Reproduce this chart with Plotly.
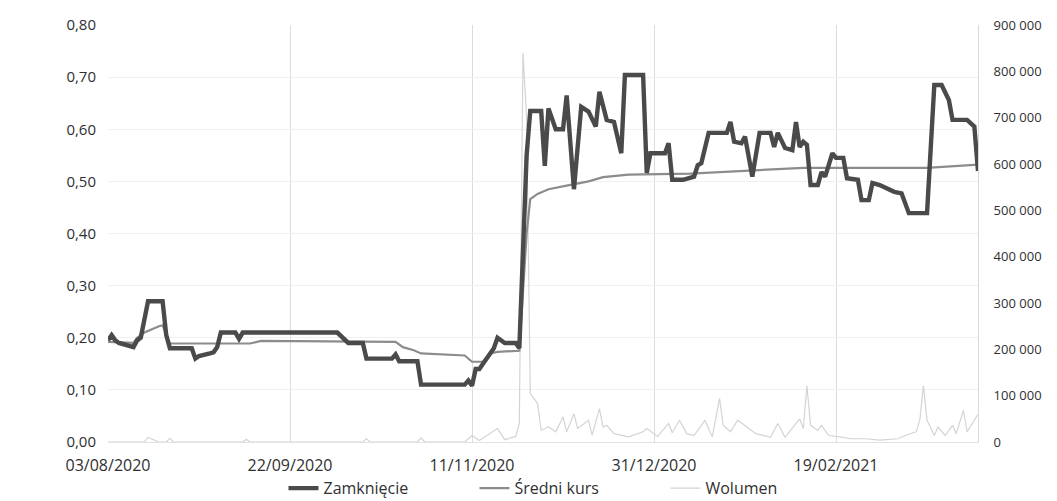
import plotly.graph_objects as go

# Closing price (Zamknięcie)
close_dates = [
    "2020-08-03", "2020-08-04", "2020-08-05", "2020-08-06", "2020-08-10", "2020-08-11", "2020-08-12", "2020-08-14", "2020-08-18", "2020-08-19",
    "2020-08-20", "2020-08-26", "2020-08-27", "2020-08-28", "2020-08-31", "2020-09-01", "2020-09-02", "2020-09-03", "2020-09-07", "2020-09-08",
    "2020-09-09", "2020-10-05", "2020-10-08", "2020-10-12", "2020-10-13", "2020-10-20", "2020-10-21", "2020-10-22", "2020-10-27", "2020-10-28",
    "2020-11-09", "2020-11-10", "2020-11-11", "2020-11-12", "2020-11-13", "2020-11-16", "2020-11-17", "2020-11-18", "2020-11-20", "2020-11-23",
    "2020-11-24", "2020-11-26", "2020-11-27", "2020-11-30", "2020-12-01", "2020-12-02", "2020-12-03", "2020-12-04", "2020-12-06", "2020-12-07",
    "2020-12-09", "2020-12-11", "2020-12-13", "2020-12-15", "2020-12-16", "2020-12-17", "2020-12-18", "2020-12-20", "2020-12-22", "2020-12-23",
    "2020-12-28", "2020-12-29", "2020-12-30", "2021-01-03", "2021-01-04", "2021-01-05", "2021-01-08", "2021-01-11", "2021-01-12", "2021-01-13",
    "2021-01-15", "2021-01-20", "2021-01-21", "2021-01-22", "2021-01-24", "2021-01-25", "2021-01-27", "2021-01-29", "2021-02-01", "2021-02-02",
    "2021-02-03", "2021-02-05", "2021-02-07", "2021-02-08", "2021-02-09", "2021-02-10", "2021-02-11", "2021-02-12", "2021-02-14", "2021-02-15",
    "2021-02-16", "2021-02-18", "2021-02-19", "2021-02-21", "2021-02-22", "2021-02-25", "2021-02-26", "2021-02-28", "2021-03-01", "2021-03-03",
    "2021-03-05", "2021-03-07", "2021-03-09", "2021-03-11", "2021-03-15", "2021-03-16", "2021-03-18", "2021-03-20", "2021-03-22", "2021-03-23",
    "2021-03-27", "2021-03-29", "2021-03-30",
]
close_values = [
    0.195, 0.205, 0.195, 0.19, 0.182, 0.195, 0.20, 0.27, 0.27, 0.205,
    0.18, 0.18, 0.16, 0.165, 0.17, 0.172, 0.182, 0.21, 0.21, 0.198,
    0.21, 0.21, 0.19, 0.19, 0.16, 0.16, 0.168, 0.155, 0.155, 0.11,
    0.11, 0.118, 0.108, 0.14, 0.14, 0.17, 0.18, 0.20, 0.19, 0.19,
    0.18, 0.55, 0.635, 0.635, 0.53, 0.64, 0.622, 0.60, 0.60, 0.665,
    0.485, 0.643, 0.634, 0.605, 0.672, 0.647, 0.618, 0.614, 0.554, 0.704,
    0.704, 0.516, 0.554, 0.554, 0.573, 0.503, 0.503, 0.509, 0.531, 0.535,
    0.593, 0.593, 0.614, 0.576, 0.573, 0.586, 0.509, 0.593, 0.593, 0.566,
    0.593, 0.564, 0.56, 0.614, 0.566, 0.576, 0.57, 0.493, 0.493, 0.518,
    0.509, 0.554, 0.545, 0.545, 0.506, 0.503, 0.464, 0.464, 0.497, 0.493,
    0.487, 0.48, 0.477, 0.439, 0.439, 0.439, 0.685, 0.685, 0.656, 0.618,
    0.618, 0.605, 0.52,
]

# Average price (Średni kurs)
avg_dates = [
    "2020-08-03", "2020-08-10", "2020-08-11", "2020-08-13", "2020-08-17", "2020-08-18", "2020-08-19", "2020-08-20", "2020-09-11", "2020-09-14",
    "2020-10-21", "2020-10-23", "2020-10-26", "2020-10-28", "2020-11-09", "2020-11-11", "2020-11-14", "2020-11-16", "2020-11-18", "2020-11-24",
    "2020-11-26", "2020-11-27", "2020-11-29", "2020-12-02", "2020-12-07", "2020-12-13", "2020-12-17", "2020-12-24", "2021-01-10", "2021-01-20",
    "2021-02-01", "2021-02-10", "2021-03-16", "2021-03-30",
]
avg_values = [
    0.192, 0.19, 0.20, 0.21, 0.222, 0.224, 0.205, 0.189, 0.189, 0.194,
    0.192, 0.182, 0.176, 0.17, 0.166, 0.154, 0.154, 0.17, 0.173, 0.175,
    0.40, 0.466, 0.476, 0.485, 0.492, 0.50, 0.508, 0.513, 0.515, 0.519,
    0.523, 0.526, 0.526, 0.532,
]

# Traded volume (Wolumen)
vol_dates = [
    "2020-08-03", "2020-08-13", "2020-08-14", "2020-08-17", "2020-08-19", "2020-08-20", "2020-08-21", "2020-09-09", "2020-09-10", "2020-09-11",
    "2020-10-12", "2020-10-13", "2020-10-14", "2020-10-27", "2020-10-28", "2020-10-29", "2020-11-09", "2020-11-11", "2020-11-13", "2020-11-18",
    "2020-11-20", "2020-11-23", "2020-11-24", "2020-11-25", "2020-11-26", "2020-11-27", "2020-11-29", "2020-11-30", "2020-12-02", "2020-12-04",
    "2020-12-06", "2020-12-07", "2020-12-09", "2020-12-10", "2020-12-13", "2020-12-14", "2020-12-16", "2020-12-17", "2020-12-18", "2020-12-20",
    "2020-12-24", "2020-12-28", "2020-12-29", "2021-01-01", "2021-01-04", "2021-01-05", "2021-01-07", "2021-01-09", "2021-01-11", "2021-01-14",
    "2021-01-16", "2021-01-18", "2021-01-19", "2021-01-21", "2021-01-23", "2021-01-25", "2021-01-26", "2021-01-28", "2021-02-01", "2021-02-03",
    "2021-02-05", "2021-02-09", "2021-02-10", "2021-02-11", "2021-02-12", "2021-02-14", "2021-02-15", "2021-02-17", "2021-02-20", "2021-02-23",
    "2021-02-27", "2021-03-03", "2021-03-08", "2021-03-10", "2021-03-13", "2021-03-14", "2021-03-15", "2021-03-16", "2021-03-18", "2021-03-19",
    "2021-03-21", "2021-03-23", "2021-03-24", "2021-03-26", "2021-03-27", "2021-03-30",
]
vol_values = [
    0, 0, 10000, 0, 0, 8000, 0, 0, 6000, 0,
    0, 7000, 0, 0, 9000, 0, 0, 14000, 3000, 29000,
    5000, 12000, 40000, 840000, 700000, 105000, 83000, 25000, 33000, 22000,
    54000, 22000, 61000, 29000, 47000, 15000, 72000, 32000, 36000, 18000,
    11000, 22000, 29000, 12000, 40000, 20000, 47000, 18000, 14000, 47000,
    11000, 94000, 36000, 22000, 47000, 36000, 29000, 18000, 10000, 40000,
    10000, 50000, 29000, 122000, 36000, 25000, 36000, 14000, 11000, 7000,
    7000, 4000, 7000, 14000, 22000, 47000, 122000, 47000, 14000, 32000,
    14000, 36000, 18000, 68000, 22000, 60000,
]

x_ticks = ["2020-08-03", "2020-09-22", "2020-11-11", "2020-12-31", "2021-02-19"]

FONT = "Open Sans"
TEXT = "#303030"

fig = go.Figure()

# Volume sits on the primary (right-hand) axis so the price lines draw above it
fig.add_trace(go.Scatter(
    x=vol_dates, y=vol_values, name="Wolumen", mode="lines",
    line=dict(color="#d4d4d4", width=1.2), yaxis="y", legendrank=3,
))
fig.add_trace(go.Scatter(
    x=avg_dates, y=avg_values, name="Średni kurs", mode="lines",
    line=dict(color="#8c8c8c", width=2.2), yaxis="y2", legendrank=2,
))
fig.add_trace(go.Scatter(
    x=close_dates, y=close_values, name="Zamknięcie", mode="lines",
    line=dict(color="#4a4a4a", width=4.4), yaxis="y2", legendrank=1,
))

fig.update_layout(
    width=1057, height=501,
    margin=dict(l=108, r=79, t=25, b=59, autoexpand=False),
    paper_bgcolor="white", plot_bgcolor="white",
    separators=", ",
    font=dict(family=FONT, size=13, color=TEXT),
    showlegend=True,
    legend=dict(
        orientation="h", x=0.531, xanchor="center", y=-0.07, yanchor="top",
        font=dict(size=16, color=TEXT), bgcolor="rgba(0,0,0,0)",
        entrywidth=146, entrywidthmode="pixels", tracegroupgap=0,
    ),
    xaxis=dict(
        type="date", range=["2020-08-03", "2021-03-30"],
        tickvals=x_ticks, tickformat="%d/%m/%Y",
        showgrid=True, gridcolor="#dcdcdc", gridwidth=1,
        showline=True, linecolor="#e2e2e2",
        ticks="outside", ticklen=9, tickcolor="rgba(0,0,0,0)",
        tickfont=dict(size=16, color=TEXT), zeroline=False,
    ),
    yaxis=dict(
        side="right", range=[0, 900000], dtick=100000, tickformat=",.0f",
        showgrid=False, zeroline=False,
        showline=True, linecolor="#d8d8d8",
        ticks="outside", ticklen=12, tickcolor="rgba(0,0,0,0)",
        tickfont=dict(size=13, color=TEXT),
    ),
    yaxis2=dict(
        overlaying="y", side="left", range=[0, 0.8], dtick=0.1, tickformat=".2f",
        showgrid=True, gridcolor="#f0f0f0", zeroline=False,
        showline=False,
        ticks="outside", ticklen=8, tickcolor="rgba(0,0,0,0)",
        tickfont=dict(size=15, color=TEXT),
    ),
)

fig.write_html("out.html")
